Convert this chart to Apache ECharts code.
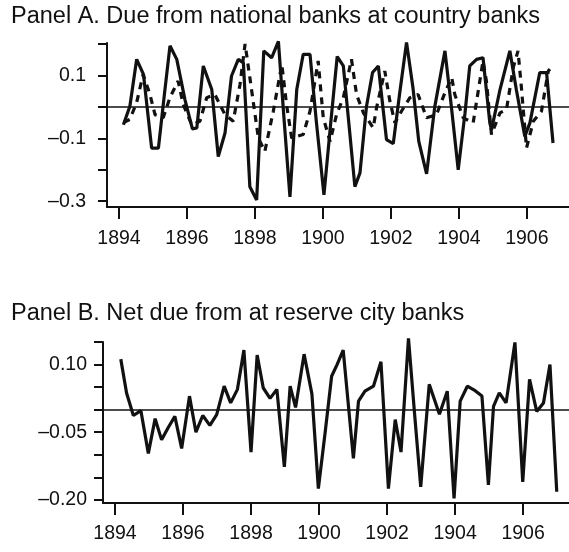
<!DOCTYPE html>
<html><head><meta charset="utf-8">
<script src="https://cdn.jsdelivr.net/npm/echarts@6/dist/echarts.min.js"></script>
<style>html,body{margin:0;padding:0;background:#fff}#c{width:569px;height:552px}</style>
</head><body><div id="c"></div>
<script>
const titleA = 'Panel A. Due from national banks at country banks';
const titleB = 'Panel B. Net due from at reserve city banks';
const yearTicks = [1894, 1896, 1898, 1900, 1902, 1904, 1906];
const ticksA = [-0.3, -0.2, -0.1, 0, 0.1, 0.2];
const labelsA = [-0.3, -0.1, 0.1];
const ticksB = [-0.2, -0.15, -0.1, -0.05, 0, 0.05, 0.1, 0.15];
const labelsB = [-0.2, -0.05, 0.1];

// Panel A, solid series
const aSolidYears = [1894.13,1894.32,1894.52,1894.72,1894.96,1895.16,1895.33,1895.50,1895.70,1895.94,1896.16,1896.29,1896.48,1896.73,1896.92,1897.12,1897.31,1897.51,1897.66,1897.85,1898.05,1898.26,1898.49,1898.69,1898.85,1899.03,1899.23,1899.42,1899.62,1899.81,1900.03,1900.23,1900.42,1900.60,1900.79,1900.94,1901.09,1901.28,1901.46,1901.63,1901.87,1902.07,1902.26,1902.46,1902.65,1902.82,1903.05,1903.29,1903.59,1903.78,1903.98,1904.18,1904.32,1904.52,1904.71,1904.91,1904.96,1905.21,1905.50,1905.69,1905.94,1906.09,1906.38,1906.58,1906.77];
const aSolidValues = [-0.057,0.002,0.151,0.103,-0.131,-0.131,0.034,0.194,0.151,0.023,-0.070,-0.067,0.130,0.055,-0.158,-0.083,0.098,0.151,0.140,-0.254,-0.296,0.178,0.156,0.208,-0.030,-0.286,0.055,0.167,0.167,-0.051,-0.280,-0.051,0.160,0.130,-0.083,-0.254,-0.210,0.000,0.109,0.130,-0.104,-0.117,0.045,0.205,0.060,-0.110,-0.213,0.000,0.178,0.000,-0.200,-0.020,0.130,0.151,0.156,-0.051,-0.073,0.055,0.178,0.055,-0.094,-0.051,0.109,0.109,-0.115];

// Panel A, dashed series
const aDashYears = [1894.13,1894.32,1894.52,1894.71,1894.91,1895.06,1895.30,1895.50,1895.74,1895.89,1896.14,1896.38,1896.58,1896.82,1897.12,1897.36,1897.56,1897.71,1897.85,1898.10,1898.29,1898.54,1898.79,1898.93,1899.08,1899.42,1899.62,1899.86,1900.01,1900.21,1900.40,1900.60,1900.84,1900.99,1901.19,1901.48,1901.58,1901.82,1901.97,1902.12,1902.31,1902.56,1902.80,1903.05,1903.34,1903.59,1903.79,1903.88,1904.13,1904.42,1904.71,1904.81,1904.96,1905.21,1905.40,1905.60,1905.74,1905.84,1905.99,1906.19,1906.43,1906.63,1906.68];
const aDashValues = [-0.050,-0.040,0.014,0.103,0.040,-0.025,-0.035,0.030,0.082,0.007,-0.057,-0.046,0.029,0.039,-0.025,-0.046,0.071,0.200,0.093,-0.099,-0.142,-0.014,0.135,0.007,-0.099,-0.088,-0.014,0.146,-0.035,-0.110,-0.025,0.029,0.151,0.039,-0.019,-0.067,-0.002,0.114,0.018,-0.051,-0.014,0.029,0.039,-0.035,-0.025,0.045,0.093,0.039,-0.035,-0.051,0.146,0.082,-0.088,-0.019,-0.009,0.125,0.178,0.061,-0.131,-0.046,-0.014,0.114,0.120];

// Panel B
const bYears = [1894.17,1894.34,1894.54,1894.76,1894.98,1895.18,1895.37,1895.57,1895.76,1895.96,1896.19,1896.38,1896.58,1896.79,1896.99,1897.21,1897.40,1897.60,1897.79,1898.00,1898.18,1898.36,1898.56,1898.76,1898.98,1899.15,1899.31,1899.56,1899.79,1899.98,1900.18,1900.37,1900.53,1900.71,1901.01,1901.16,1901.35,1901.60,1901.82,1902.04,1902.24,1902.41,1902.63,1902.81,1902.99,1903.24,1903.54,1903.77,1903.97,1904.15,1904.36,1904.59,1904.79,1904.98,1905.13,1905.30,1905.50,1905.76,1905.99,1906.19,1906.40,1906.60,1906.79,1906.99];
const bValues = [0.112,0.037,-0.013,-0.002,-0.097,-0.020,-0.067,-0.039,-0.015,-0.086,0.030,-0.050,-0.013,-0.035,-0.011,0.052,0.015,0.045,0.132,-0.094,0.121,0.048,0.025,0.045,-0.127,0.052,0.005,0.123,0.035,-0.175,-0.050,0.074,0.100,0.132,-0.108,0.019,0.041,0.052,0.106,-0.175,-0.022,-0.094,0.158,-0.010,-0.171,0.056,-0.010,0.041,-0.197,0.019,0.052,0.042,0.030,-0.167,0.007,0.037,0.015,0.149,-0.160,0.067,-0.004,0.015,0.100,-0.182];

function pairs(xs, ys){ return xs.map((x,i)=>[x, ys[i]]); }
const FONT = 'Liberation Sans';
const INK = '#111';
function fmt(d){ return v => (v < 0 ? '\u2013' : '') + Math.abs(v).toFixed(d); }

const chart = echarts.init(document.getElementById('c'), null, {renderer:'canvas'});
const axisCommon = {
  axisLine:{show:true, onZero:false, lineStyle:{color:INK, width:2}},
  splitLine:{show:false}
};
chart.setOption({
  animation:false,
  backgroundColor:'#fff',
  title:[
    {text:titleA, left:6, top:0, textStyle:{fontFamily:FONT, fontSize:23.5, fontWeight:'normal', color:INK}},
    {text:titleB, left:6, top:297, textStyle:{fontFamily:FONT, fontSize:23.5, fontWeight:'normal', color:INK}}
  ],
  grid:[
    {left:107, right:0, top:43, bottom:345},
    {left:103, right:0, top:342, bottom:49}
  ],
  xAxis:[
    Object.assign({type:'value', gridIndex:0, min:1893.647, max:1907.24,
      axisTick:{show:true, length:12, customValues:yearTicks, lineStyle:{color:INK, width:2}},
      axisLabel:{customValues:yearTicks, margin:22, fontFamily:FONT, fontSize:19.5, color:INK, formatter:v=>String(v)}}, axisCommon),
    Object.assign({type:'value', gridIndex:1, min:1893.647, max:1907.35,
      axisTick:{show:true, length:12, customValues:yearTicks, lineStyle:{color:INK, width:2}},
      axisLabel:{customValues:yearTicks, margin:21, fontFamily:FONT, fontSize:19.5, color:INK, formatter:v=>String(v)}}, axisCommon)
  ],
  yAxis:[
    Object.assign({type:'value', gridIndex:0, min:-0.3185, max:0.203,
      axisTick:{show:true, length:9, customValues:ticksA, lineStyle:{color:INK, width:2}},
      axisLabel:{customValues:labelsA, margin:21, fontFamily:FONT, fontSize:19.5, color:INK, formatter:fmt(1)}}, axisCommon),
    Object.assign({type:'value', gridIndex:1, min:-0.207, max:0.15,
      axisTick:{show:true, length:9, customValues:ticksB, lineStyle:{color:INK, width:2}},
      axisLabel:{customValues:labelsB, margin:16, fontFamily:FONT, fontSize:19.5, color:INK, formatter:fmt(2)}}, axisCommon)
  ],
  series:[
    {type:'line', xAxisIndex:0, yAxisIndex:0, data:pairs(aDashYears, aDashValues), symbol:'none', clip:false,
      lineStyle:{color:INK, width:3.2, type:[7,6]}},
    {type:'line', xAxisIndex:0, yAxisIndex:0, data:pairs(aSolidYears, aSolidValues), symbol:'none', clip:false,
      lineStyle:{color:INK, width:3.2},
      markLine:{silent:true, symbol:'none', label:{show:false}, lineStyle:{color:INK, width:1.6, type:'solid'}, data:[{yAxis:0}]}},
    {type:'line', xAxisIndex:1, yAxisIndex:1, data:pairs(bYears, bValues), symbol:'none', clip:false,
      lineStyle:{color:INK, width:3.2},
      markLine:{silent:true, symbol:'none', label:{show:false}, lineStyle:{color:INK, width:1.6, type:'solid'}, data:[{yAxis:0}]}}
  ]
});
</script></body></html>
